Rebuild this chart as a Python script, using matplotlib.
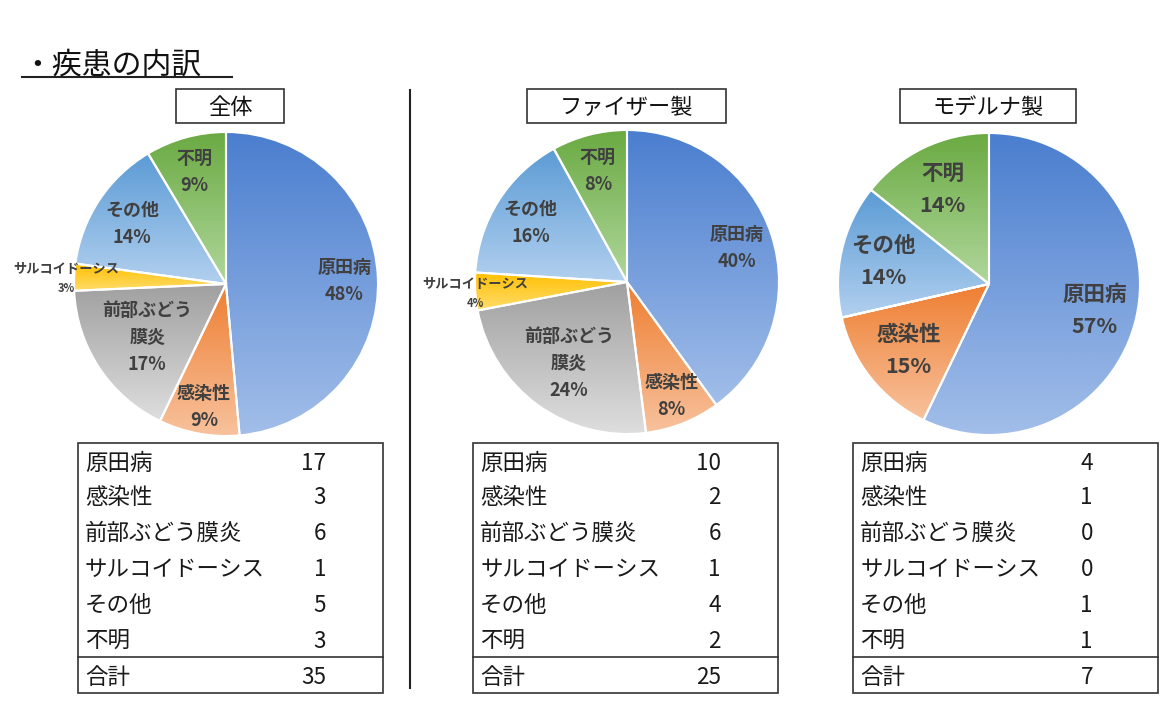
import numpy as np
import matplotlib.pyplot as plt
from matplotlib.colors import to_rgb
from matplotlib.patches import Rectangle

plt.rcParams['font.family'] = ['Noto Sans CJK JP', 'DejaVu Sans']

W, H = 1173, 713

# data
categories = ['原田病', '感染性', '前部ぶどう膜炎', 'サルコイドーシス', 'その他', '不明']
pie_names = ['原田病', '感染性', '前部ぶどう\n膜炎', 'サルコイドーシス', 'その他', '不明']
panel_titles = ['全体', 'ファイザー製', 'モデルナ製']
counts_all = [17, 3, 6, 1, 5, 3]
counts_pfizer = [10, 2, 6, 1, 4, 2]
counts_moderna = [4, 1, 0, 0, 1, 1]
pct_all = ['48%', '9%', '17%', '3%', '14%', '9%']
pct_pfizer = ['40%', '8%', '24%', '4%', '16%', '8%']
pct_moderna = ['57%', '15%', '0%', '0%', '14%', '14%']
total_label = '合計'

# gradient colours per slice (top, bottom)
grad = [('#4a7ecf', '#a2bee9'), ('#ee7e31', '#f8c29d'), ('#a0a0a0', '#dedede'),
        ('#ffbf00', '#ffdc6a'), ('#5b9bd5', '#b2d0ef'), ('#6aaa42', '#b0d79c')]

# layout per panel (pixels)
panels = [
    dict(counts=counts_all, pcts=pct_all, title=panel_titles[0],
         c=(226, 284), r=152, box=(176, 89, 284, 123),
         tbl=(78, 443, 383, 693), numx=326, fs=13, lsp=27,
         lr=[0.78, 0.81, 0.62, 1.05, 0.74, 0.78]),
    dict(counts=counts_pfizer, pcts=pct_pfizer, title=panel_titles[1],
         c=(627, 282), r=152, box=(527, 89, 726, 123),
         tbl=(473, 443, 778, 693), numx=721, fs=13, lsp=27,
         lr=[0.76, 0.79, 0.65, 1.0, 0.75, 0.77]),
    dict(counts=counts_moderna, pcts=pct_moderna, title=panel_titles[2],
         c=(989, 284), r=151, box=(900, 89, 1076, 123),
         tbl=(853, 443, 1158, 693), numx=1093, fs=15.5, lsp=32,
         lr=[0.72, 0.68, 0.7, 1.0, 0.72, 0.71]),
]
row_y = [461, 495, 531, 567, 603, 639]
total_y = 675
sep_y = 657
DY = 2  # text baseline nudge in pixels


def Y(py):
    return H - py - 0


def TY(py):
    return H - py - DY


fig = plt.figure(figsize=(W / 100, H / 100), dpi=100)
ax = fig.add_axes([0, 0, 1, 1])

# heading
ax.text(22, TY(63), '・疾患の内訳', fontsize=21.5, va='center', ha='left', color='#111111')
ax.plot([22, 232], [Y(77), Y(77)], color='#222222', lw=1.5)
# vertical separator
ax.plot([410, 410], [Y(90), Y(688)], color='#222222', lw=1.5)

for p in panels:
    cx, cy = p['c']
    wedges, _ = ax.pie(p['counts'], center=(cx, Y(cy)), radius=p['r'],
                       startangle=90, counterclock=False,
                       wedgeprops=dict(edgecolor='white', linewidth=1.5, facecolor='none'))
    for i, wdg in enumerate(wedges):
        wdg.set_zorder(3)
        if p['counts'][i] == 0:
            continue
        t = np.radians(np.linspace(wdg.theta1, wdg.theta2, 200))
        xs = np.r_[cx, cx + wdg.r * np.cos(t)]
        ys = np.r_[Y(cy), Y(cy) + wdg.r * np.sin(t)]
        top, bot = np.array(to_rgb(grad[i][0])), np.array(to_rgb(grad[i][1]))
        f = np.linspace(0, 1, 256)[:, None, None]
        img = top * (1 - f) + bot * f
        im = ax.imshow(img, extent=(xs.min(), xs.max(), ys.min(), ys.max()),
                       origin='upper', interpolation='bilinear', zorder=2, aspect='auto')
        im.set_clip_path(wdg)
        # label
        mid = np.radians((wdg.theta1 + wdg.theta2) / 2)
        lx = cx + p['r'] * p['lr'][i] * np.cos(mid)
        ly = Y(cy) - DY + p['r'] * p['lr'][i] * np.sin(mid)
        small = categories[i] == 'サルコイドーシス'
        lines = pie_names[i].split('\n') + [p['pcts'][i]]
        fs = 9.5 if small else p['fs']
        lsp = 20 if small else p['lsp']
        n = len(lines)
        for k, line in enumerate(lines):
            ax.text(lx, ly + ((n - 1) / 2 - k) * lsp, line,
                    fontsize=fs if (k < n - 1 or not small) else 8,
                    fontweight='bold', color='#404040', ha='center', va='center', zorder=5)

    # title box
    bx0, by0, bx1, by1 = p['box']
    ax.add_patch(Rectangle((bx0, Y(by1)), bx1 - bx0, by1 - by0, fill=False,
                           edgecolor='#333333', lw=1.2, zorder=4))
    ax.text((bx0 + bx1) / 2, TY((by0 + by1) / 2), p['title'], fontsize=16,
            ha='center', va='center', color='#111111')

    # table
    tx0, ty0, tx1, ty1 = p['tbl']
    ax.add_patch(Rectangle((tx0, Y(ty1)), tx1 - tx0, ty1 - ty0, fill=False,
                           edgecolor='#333333', lw=1.2, zorder=4))
    ax.plot([tx0, tx1], [Y(sep_y), Y(sep_y)], color='#333333', lw=1.2)
    for name, val, ry in zip(categories, p['counts'], row_y):
        ax.text(tx0 + 7, TY(ry), name, fontsize=16.2, ha='left', va='center', color='#1a1a1a')
        ax.text(p['numx'], TY(ry), str(val), fontsize=16.2, ha='right', va='center', color='#1a1a1a')
    ax.text(tx0 + 7, TY(total_y), total_label, fontsize=16.2, ha='left', va='center', color='#1a1a1a')
    ax.text(p['numx'], TY(total_y), str(sum(p['counts'])), fontsize=16.2, ha='right',
            va='center', color='#1a1a1a')

ax.set_xlim(0, W)
ax.set_ylim(0, H)
ax.set_aspect('auto')
ax.axis('off')
fig.savefig('out.png', dpi=100, facecolor='white')
